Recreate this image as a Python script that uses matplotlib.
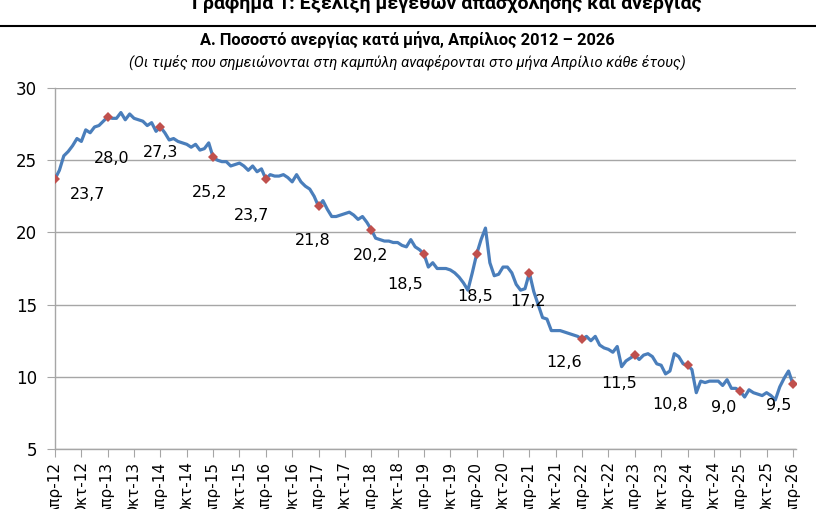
import matplotlib.pyplot as plt
import numpy as np

# monthly unemployment rate (%), April of each year to March of the next
y2012 = [23.7, 24.3, 25.3, 25.6, 26.0, 26.5, 26.3, 27.1, 26.9, 27.3, 27.4, 27.7]
y2013 = [28.0, 27.9, 27.9, 28.3, 27.8, 28.2, 27.9, 27.8, 27.7, 27.4, 27.6, 27.0]
y2014 = [27.3, 26.9, 26.4, 26.5, 26.3, 26.2, 26.1, 25.9, 26.1, 25.7, 25.8, 26.2]
y2015 = [25.2, 25.0, 24.9, 24.9, 24.6, 24.7, 24.8, 24.6, 24.3, 24.6, 24.2, 24.4]
y2016 = [23.7, 24.0, 23.9, 23.9, 24.0, 23.8, 23.5, 24.0, 23.5, 23.2, 23.0, 22.5]
y2017 = [21.8, 22.2, 21.6, 21.1, 21.1, 21.2, 21.3, 21.4, 21.2, 20.9, 21.1, 20.7]
y2018 = [20.2, 19.6, 19.5, 19.4, 19.4, 19.3, 19.3, 19.1, 19.0, 19.5, 19.0, 18.8]
y2019 = [18.5, 17.6, 17.9, 17.5, 17.5, 17.5, 17.4, 17.2, 16.9, 16.5, 16.0, 17.2]
y2020 = [18.5, 19.5, 20.3, 17.9, 17.0, 17.1, 17.6, 17.6, 17.2, 16.4, 16.0, 16.1]
y2021 = [17.2, 15.9, 15.0, 14.1, 14.0, 13.2, 13.2, 13.2, 13.1, 13.0, 12.9, 12.8]
y2022 = [12.6, 12.8, 12.5, 12.8, 12.2, 12.0, 11.9, 11.7, 12.1, 10.7, 11.1, 11.3]
y2023 = [11.5, 11.2, 11.5, 11.6, 11.4, 10.9, 10.8, 10.2, 10.4, 11.6, 11.4, 10.9]
y2024 = [10.8, 10.5, 8.9, 9.7, 9.6, 9.7, 9.7, 9.7, 9.4, 9.8, 9.2, 9.2]
y2025 = [9.0, 8.6, 9.1, 8.9, 8.8, 8.7, 8.9, 8.7, 8.4, 9.3, 9.9, 10.4]
y2026 = [9.5]

rate = np.array(y2012 + y2013 + y2014 + y2015 + y2016 + y2017 + y2018 + y2019 +
                y2020 + y2021 + y2022 + y2023 + y2024 + y2025 + y2026)
months = np.arange(len(rate))

years = list(range(12, 27))
tick_labels = []
for yy in years:
    tick_labels.append("Απρ-%d" % yy)
    if yy < 26:
        tick_labels.append("Οκτ-%d" % yy)

# label offsets (pixels) for the April values
label_dx = [33, 4, 0, -4, -14, -6, -1, -19, -2, -1, -18, -16, -17, -17, -14]
label_dy = [-16, -42, -26, -35, -37, -34, -26, -30, -42, -29, -23, -28, -39, -16, -21]

grey = '#a6a6a6'

fig = plt.figure(figsize=(8.16, 5.09), dpi=100)
ax = fig.add_axes([55/816, 60/509, 741/816, 361/509])

ax.plot(months, rate, color='#4a7ebb', lw=2.3, zorder=3)
apr = months[::12]
ax.plot(apr, rate[apr], 'D', color='#c0504d', markersize=5.5, markeredgewidth=0, zorder=4)
for i, m in enumerate(apr):
    ax.annotate(("%.1f" % rate[m]).replace('.', ','), (m, rate[m]),
                xytext=(label_dx[i], label_dy[i]), textcoords='offset pixels',
                ha='center', va='center', fontsize=11.5, color='black')

ax.set_xlim(0, 168.7)
ax.set_ylim(5, 30)
ax.set_yticks([5, 10, 15, 20, 25, 30])
ax.set_xticks(months[::6])
ax.set_xticklabels(tick_labels, rotation=90, fontsize=11)
ax.tick_params(axis='y', labelsize=12, length=6, color=grey, pad=7)
ax.tick_params(axis='x', length=6, color=grey, pad=3)
ax.grid(axis='y', color=grey, lw=1)
ax.set_axisbelow(True)
for s in ['top', 'right']:
    ax.spines[s].set_visible(False)
for s in ['left', 'bottom']:
    ax.spines[s].set_color(grey)
    ax.spines[s].set_linewidth(1)

fig.text(0.547, 1 - 9/509, "Γράφημα 1: Εξέλιξη μεγεθών απασχόλησης και ανεργίας",
         ha='center', va='baseline', fontsize=14, fontweight='bold', family='Roboto')
fig.add_artist(plt.Line2D([0, 1], [1 - 26/509, 1 - 26/509], color='black', lw=1.5))
fig.text(0.499, 1 - 40/509, "Α. Ποσοστό ανεργίας κατά μήνα, Απρίλιος 2012 – 2026",
         ha='center', va='center', fontsize=11.8, fontweight='bold', family='Roboto')
fig.text(0.499, 1 - 62/509,
         "(Οι τιμές που σημειώνονται στη καμπύλη αναφέρονται στο μήνα Απρίλιο κάθε έτους)",
         ha='center', va='center', fontsize=10.6, style='italic', family='Roboto')

fig.savefig('out.png', dpi=100)
